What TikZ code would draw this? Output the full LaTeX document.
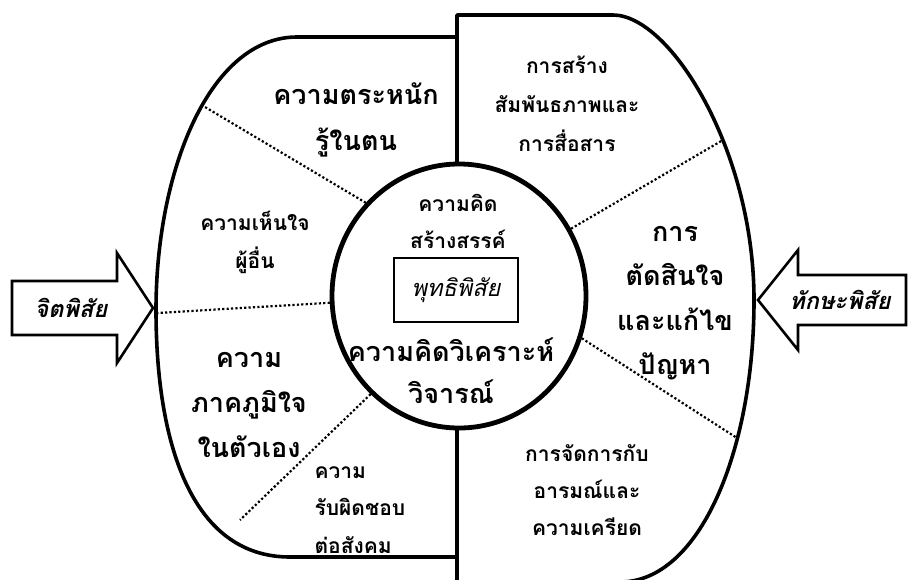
\documentclass[tikz,border=0pt]{standalone}
\usepackage{fontspec}
\setmainfont{Loma}[Script=Thai]
\usetikzlibrary{shapes.geometric}

\begin{document}
\begin{tikzpicture}[x=1pt,y=-1pt,
  rim/.style={line width=3.6pt,line join=round},
  divider/.style={line width=2.2pt,dash pattern=on 2.2pt off 2.2pt},
  bigtxt/.style={font=\fontsize{27}{44}\selectfont\bfseries,align=center},
  smalltxt/.style={font=\fontsize{21}{38}\selectfont\bfseries,align=center},
  pointer/.style={line width=2.6pt,line join=miter},
  tag/.style={font=\fontsize{23.5}{26}\selectfont\bfseries\itshape}]

\useasboundingbox (0,0) rectangle (917,579);

% left half
\draw[rim] (458,37) -- (297,37) .. controls (210,37) and (156,170) .. (156,310)
  .. controls (156,440) and (190,557) .. (290,557) -- (458,557);
% right half
\draw[rim] (457,582) -- (457,15) -- (613,15) .. controls (670,15) and (754,150) .. (754,300)
  .. controls (754,450) and (700,582) .. (620,582);

% outer ends of the dividers
\coordinate (oa) at (205,107);
\coordinate (ob) at (157,313);
\coordinate (oc) at (240,520);
\coordinate (od) at (723,140);
\coordinate (oe) at (737,438);

% centre
\node[ellipse,draw,line width=4.8pt,fill=white,minimum width=254pt,minimum height=264pt,inner sep=0pt] (core) at (459,296) {};
\draw[divider] (core.135) -- (oa);
\draw[divider] (core.183) -- (ob);
\draw[divider] (core.228) -- (oc);
\draw[divider] (core.31) -- (od);
\draw[divider] (core.341) -- (oe);

\node[draw,line width=2.8pt,minimum width=124pt,minimum height=64pt] (cog) at (456,290)
  {\fontsize{23.5}{26}\selectfont\itshape พุทธิพิสัย};

% left side texts
\node[bigtxt,font=\fontsize{27}{46}\selectfont\bfseries] (aware) at (356,120) {ความตระหนัก\\รู้ในตน};
\node[smalltxt] (empathy) at (255,242) {ความเห็นใจ\\ผู้อื่น};
\node[bigtxt,font=\fontsize{27}{45}\selectfont\bfseries] (pride) at (249,405) {ความ\\ภาคภูมิใจ\\ในตัวเอง};
\node[smalltxt,font=\fontsize{21}{37.5}\selectfont\bfseries,align=left,anchor=west] (duty) at (311,510) {ความ\\รับผิดชอบ\\ต่อสังคม};

% circle texts
\node[smalltxt,font=\fontsize{21}{37}\selectfont\bfseries] (create) at (458,221) {ความคิด\\สร้างสรรค์};
\node[bigtxt,font=\fontsize{27}{42}\selectfont\bfseries] (analyse) at (451,371) {ความคิดวิเคราะห์\\วิจารณ์};

% right side texts
\node[smalltxt,font=\fontsize{21}{39}\selectfont\bfseries] (relate) at (567,104) {การสร้าง\\สัมพันธภาพและ\\การสื่อสาร};
\node[bigtxt,font=\fontsize{27}{44.5}\selectfont\bfseries] (decide) at (675,303) {การ\\ตัดสินใจ\\และแก้ไข\\ปัญหา};
\node[smalltxt,font=\fontsize{21}{37}\selectfont\bfseries] (cope) at (587,490) {การจัดการกับ\\อารมณ์และ\\ความเครียด};

% arrows
\draw[pointer] (12,281) -- (117,281) -- (117,253) -- (153,308) -- (117,363) -- (117,335) -- (12,335) -- cycle;
\node[tag] (affect) at (71,308) {จิตพิสัย};
\draw[pointer] (906,275) -- (798,275) -- (798,250) -- (758,300) -- (798,350) -- (798,325) -- (906,325) -- cycle;
\node[tag] (skill) at (840,300) {ทักษะพิสัย};

\end{tikzpicture}
\end{document}
